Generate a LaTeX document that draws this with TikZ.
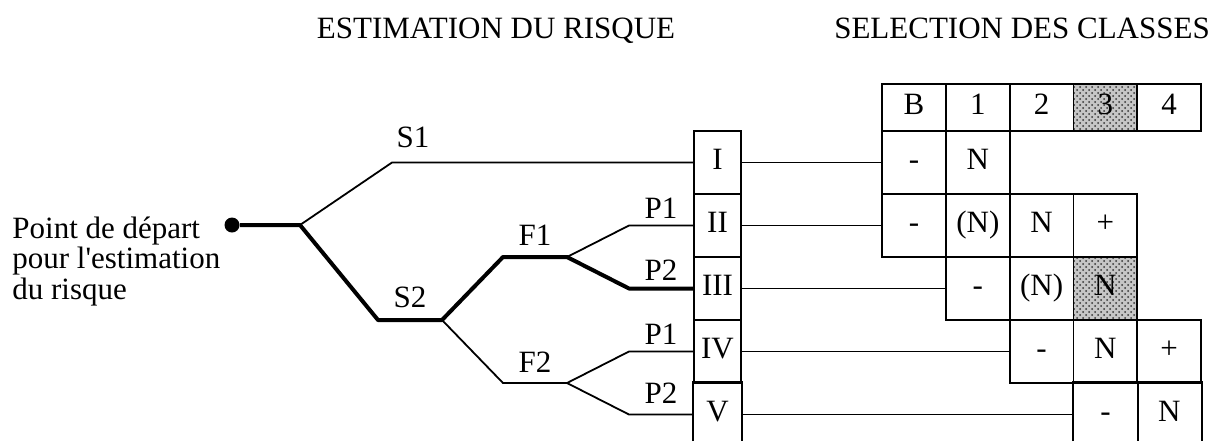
\documentclass[tikz,border=0pt]{standalone}
\usepackage{fontspec}
\setmainfont{Liberation Serif}
\usetikzlibrary{positioning,patterns}

\tikzset{
  every node/.style={font=\fontsize{15.5}{13.5}\selectfont},
  cell/.style={draw, line width=0.9pt, minimum width=31.9pt, minimum height=31.5pt, inner sep=0pt, text height=0.66em, text depth=0pt},
  head/.style={cell, minimum height=23.5pt},
  roman/.style={cell, minimum width=23.5pt},
  shaded/.style={preaction={fill=gray!45}, pattern=crosshatch dots, pattern color=black!80},
  branch/.style={line width=0.9pt},
  chosen/.style={line width=2pt, line join=round},
  lbl/.style={above, inner sep=5pt},
  plbl/.style={above, inner sep=3pt},
}

\begin{document}
\begin{tikzpicture}[x=0.5pt,y=-0.5pt,node distance=31.5pt and 31.9pt,on grid]
    \useasboundingbox (0,0) rectangle (1218,441);
    \coordinate (bot) at (0,441);

    \node[anchor=base] (t_est) at (496,38) {ESTIMATION DU RISQUE};
    \node[anchor=base] (t_sel) at (1022,38) {SELECTION DES CLASSES};

    \node[anchor=base west, align=left, inner sep=0pt] (txt) at (12,299) {Point de départ\\pour l\textquotesingle estimation\\du risque};
    \node[circle, fill, inner sep=0pt, minimum size=7.5pt] (start) at (232,225) {};

    \node[roman] (r_I) at (717.5,162.5) {I};
    \node[roman] (r_II) [below=of r_I] {II};
    \node[roman] (r_III) [below=of r_II] {III};
    \node[roman] (r_IV) [below=of r_III] {IV};
    \node[roman, draw=none] (r_V) [below=of r_IV] {V};

    \node[head] (h_B) at (914,107.5) {B};
    \node[head] (h_1) [right=of h_B] {1};
    \node[head] (h_2) [right=of h_1] {2};
    \node[head, shaded] (h_3) [right=of h_2] {3};
    \node[head] (h_4) [right=of h_3] {4};

    \node[cell] (c_IB) at (h_B |- r_I) {-};
    \node[cell] (c_I1) [right=of c_IB] {N};
    \node[cell] (c_IIB) at (h_B |- r_II) {-};
    \node[cell] (c_II1) [right=of c_IIB] {(N)};
    \node[cell] (c_II2) [right=of c_II1] {N};
    \node[cell] (c_II3) [right=of c_II2] {+};
    \node[cell] (c_III1) at (h_1 |- r_III) {-};
    \node[cell] (c_III2) [right=of c_III1] {(N)};
    \node[cell, shaded] (c_III3) [right=of c_III2] {N};
    \node[cell] (c_IV2) at (h_2 |- r_IV) {-};
    \node[cell] (c_IV3) [right=of c_IV2] {N};
    \node[cell] (c_IV4) [right=of c_IV3] {+};
    \node[cell, draw=none] (c_V3) at (h_3 |- r_V) {-};
    \node[cell, draw=none] (c_V4) [right=of c_V3] {N};

    \draw[branch] (r_V.west |- bot) -- (r_V.north west) -- (r_V.north east) -- (r_V.east |- bot);
    \draw[branch] (c_V3.west |- bot) -- (c_V3.north west) -- (c_V4.north east) -- (c_V4.east |- bot);
    \draw[branch] (c_V3.north east) -- (c_V3.east |- bot);

    \coordinate (root) at (300,225);
    \coordinate (s1a) at (392,162.5);
    \coordinate (s2a) at (378,320);
    \coordinate (s2b) at (442,320);
    \coordinate (f1a) at (503,257);
    \coordinate (f1b) at (567,257);
    \coordinate (f2a) at (503,383);
    \coordinate (f2b) at (567,383);
    \coordinate (p1up) at (629,225.5);
    \coordinate (p2up) at (629,288.5);
    \coordinate (p1low) at (629,351.5);
    \coordinate (p2low) at (629,414.5);

    \draw[branch] (root) -- (s1a) -- node[lbl, pos=0.07, inner sep=7pt] {S1} (r_I);
    \draw[branch] (s2b) -- (f2a) -- node[lbl] {F2} (f2b) -- (p1low) -- node[plbl] {P1} (r_IV);
    \draw[branch] (f2b) -- (p2low) -- node[lbl] {P2} (r_V);
    \draw[branch] (f1b) -- (p1up) -- node[plbl] {P1} (r_II);
    \draw[chosen] (start) -- (root) -- (s2a) -- node[lbl] {S2} (s2b) -- (f1a) -- node[lbl] {F1} (f1b) -- (p2up) -- node[plbl] {P2} (r_III);

    \draw[branch] (r_I) -- (c_IB);
    \draw[branch] (r_II) -- (c_IIB);
    \draw[branch] (r_III) -- (c_III1);
    \draw[branch] (r_IV) -- (c_IV2);
    \draw[branch] (r_V) -- (c_V3);
\end{tikzpicture}
\end{document}
